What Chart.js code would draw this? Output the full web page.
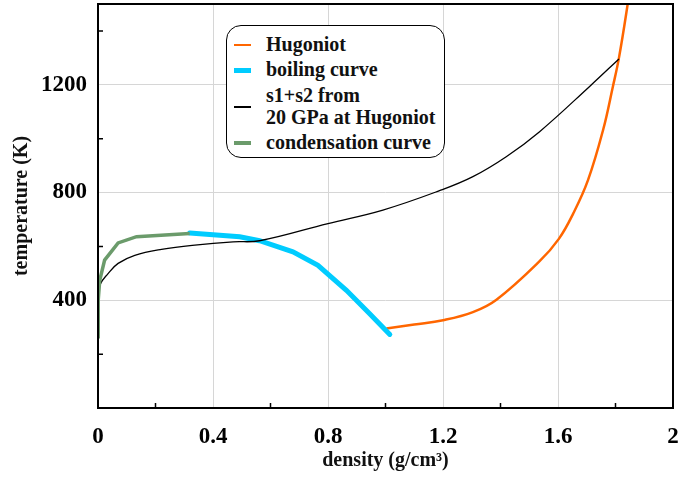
<!DOCTYPE html>
<html>
<head>
<meta charset="utf-8">
<script src="https://cdn.jsdelivr.net/npm/chart.js@4"></script>
<style>
  body { margin: 0; background: #fff; }
  #wrap { position: relative; width: 681px; height: 477px; }
  #legend {
    position: absolute; left: 226px; top: 25px; width: 217px; height: 131px;
    border: 1.5px solid #000; border-radius: 15px; background: #fff;
    font-family: "Liberation Serif", serif; font-weight: bold; font-size: 20px; color: #111;
  }
  .row { position: absolute; left: 0; }
  .swatch { position: absolute; left: 7px; width: 17px; }
  .txt { position: absolute; left: 39px; white-space: nowrap; line-height: 22px; }
</style>
</head>
<body>
<div id="wrap">
  <canvas id="chart" width="681" height="477"></canvas>
  <div id="legend"></div>
</div>
<script>
// data: density (g/cm3) vs temperature (K)
const hugoniotX = [1.003, 1.1, 1.2, 1.304, 1.386, 1.536, 1.603, 1.652, 1.704, 1.757, 1.791, 1.812, 1.843, 1.87];
const hugoniotY = [295, 310, 326, 356, 402, 545, 628, 720, 845, 1033, 1194, 1300, 1504, 1700];

const boilingX = [0.319, 0.493, 0.562, 0.678, 0.765, 0.864, 0.945, 1.015];
const boilingY = [650, 636, 621, 580, 530, 437, 350, 273];

const s1s2X = [0, 0.006, 0.035, 0.07, 0.128, 0.221, 0.337, 0.47, 0.562, 0.8, 0.991, 1.188, 1.304, 1.42, 1.536, 1.71, 1.812];
const s1s2Y = [405, 456, 499, 537, 567, 589, 605, 617, 621, 685, 735, 807, 859, 933, 1026, 1194, 1296];

const condX = [0, 0.0007, 0.006, 0.023, 0.07, 0.134, 0.319];
const condY = [265, 400, 474, 549, 613, 636, 648];

const xTicks = [0, 0.4, 0.8, 1.2, 1.6, 2];
const yTicks = [400, 800, 1200];

const legendItems = [
  { label: ['Hugoniot'], color: '#ff6600', width: 2.5, top: 7 },
  { label: ['boiling curve'], color: '#00ccff', width: 5, top: 32 },
  { label: ['s1+s2 from', '20 GPa at Hugoniot'], color: '#000', width: 1.5, top: 58 },
  { label: ['condensation curve'], color: '#6b9b6b', width: 3.5, top: 105 }
];

function pts(xs, ys) {
  return xs.map(function(x, i) { return { x: x, y: ys[i] } });
}

function isMajor(list, v) {
  return list.some(function(t) { return Math.abs(t - v) < 1e-6 });
}

// legend in html so it can have the rounded box
const legend = document.getElementById('legend');
legendItems.forEach(function(item) {
  let row = document.createElement('div');
  row.className = 'row';
  row.style.top = item.top + 'px';
  let sw = document.createElement('div');
  sw.className = 'swatch';
  sw.style.height = item.width + 'px';
  sw.style.background = item.color;
  sw.style.top = (item.label.length * 22 / 2 - item.width / 2 + 1) + 'px';
  let txt = document.createElement('div');
  txt.className = 'txt';
  txt.innerHTML = item.label.join('<br>');
  row.appendChild(sw);
  row.appendChild(txt);
  legend.appendChild(row);
});

// frame round the plot and little inside ticks
const framePlugin = {
  id: 'frame',
  afterDatasetsDraw(chart) {
    const a = chart.chartArea;
    const ctx = chart.ctx;
    ctx.save();
    ctx.strokeStyle = '#000';
    ctx.lineWidth = 1.5;
    ctx.beginPath();
    chart.scales.x.ticks.forEach(function(t) {
      if (isMajor(xTicks, t.value) || t.value >= 2) return;
      const px = chart.scales.x.getPixelForValue(t.value);
      ctx.moveTo(px, a.bottom);
      ctx.lineTo(px, a.bottom - 5);
    });
    chart.scales.y.ticks.forEach(function(t) {
      if (isMajor(yTicks, t.value) || t.value == 0 || t.value >= 1500) return;
      const py = chart.scales.y.getPixelForValue(t.value);
      ctx.moveTo(a.left, py);
      ctx.lineTo(a.left + 5, py);
    });
    ctx.stroke();
    ctx.lineWidth = 2;
    ctx.strokeRect(a.left, a.top, a.right - a.left, a.bottom - a.top);
    ctx.restore();
  }
};

const font = { family: 'Liberation Serif', weight: 'bold', size: 23 };
const titleFont = { family: 'Liberation Serif', weight: 'bold', size: 20 };

new Chart(document.getElementById('chart'), {
  type: 'line',
  data: {
    datasets: [
      { label: 'condensation curve', data: pts(condX, condY), borderColor: '#6b9b6b', borderWidth: 3.5, tension: 0 },
      { label: 's1+s2 from 20 GPa at Hugoniot', data: pts(s1s2X, s1s2Y), borderColor: '#000', borderWidth: 1.3, tension: 0.4 },
      { label: 'boiling curve', data: pts(boilingX, boilingY), borderColor: '#00ccff', borderWidth: 5, tension: 0, borderCapStyle: 'round' },
      { label: 'Hugoniot', data: pts(hugoniotX, hugoniotY), borderColor: '#ff6600', borderWidth: 2.5, tension: 0.4 }
    ]
  },
  options: {
    responsive: false,
    animation: false,
    events: [],
    elements: { point: { radius: 0 } },
    layout: { padding: { top: 4, right: 8, left: 0, bottom: 0 } },
    plugins: { legend: { display: false }, tooltip: { enabled: false } },
    scales: {
      x: {
        type: 'linear', min: 0, max: 2,
        afterFit: function(s) { s.height = 69; s.paddingLeft = 0; s.paddingRight = 0 },
        border: { display: false },
        grid: {
          drawTicks: false,
          color: function(c) { return (c.tick && isMajor(xTicks, c.tick.value) && c.tick.value > 0 && c.tick.value < 2) ? '#d6d6d6' : 'rgba(0,0,0,0)' }
        },
        ticks: {
          stepSize: 0.2, color: '#000', font: font, padding: 15, maxRotation: 0, autoSkip: false,
          callback: function(v) { return isMajor(xTicks, v) ? String(Math.round(v * 10) / 10) : '' }
        },
        title: { display: true, text: 'density (g/cm³)', color: '#111', font: titleFont, padding: { top: 0 } }
      },
      y: {
        type: 'linear', min: 0, max: 1500,
        afterFit: function(s) { s.width = 98; s.paddingTop = 0; s.paddingBottom = 0 },
        border: { display: false },
        grid: {
          drawTicks: false,
          color: function(c) { return (c.tick && isMajor(yTicks, c.tick.value)) ? '#d6d6d6' : 'rgba(0,0,0,0)' }
        },
        ticks: {
          stepSize: 200, color: '#000', font: font, padding: 11, autoSkip: false,
          callback: function(v) { return isMajor(yTicks, v) ? String(v) : '' }
        },
        title: { display: true, text: 'temperature (K)', color: '#111', font: titleFont, padding: { top: 10, bottom: 0 } }
      }
    }
  },
  plugins: [framePlugin]
});
</script>
</body>
</html>
